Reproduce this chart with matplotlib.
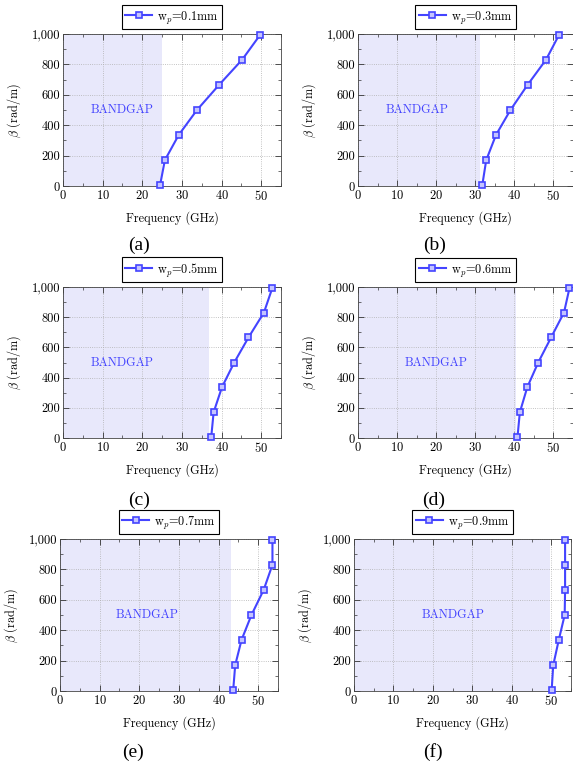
import matplotlib
matplotlib.use('Agg')
import matplotlib.pyplot as plt
from matplotlib.ticker import FuncFormatter, MultipleLocator

plt.rcParams['font.family'] = 'serif'
plt.rcParams['font.serif'] = ['cmr10']
plt.rcParams['mathtext.fontset'] = 'cm'
plt.rcParams['axes.formatter.use_mathtext'] = True

# phase constant (rad/m), same for every panel
beta = [7, 170, 336, 500, 666, 831, 993]

# frequency (GHz) of each point, one list per strip width
freq_01 = [24.5, 25.7, 29.2, 33.8, 39.4, 45.2, 49.7]
freq_03 = [31.8, 32.8, 35.3, 39.0, 43.4, 48.1, 51.4]
freq_05 = [37.4, 38.0, 40.1, 43.2, 46.8, 50.7, 52.8]
freq_06 = [40.8, 41.4, 43.3, 46.1, 49.4, 52.7, 54.1]
freq_07 = [43.7, 44.2, 45.8, 48.3, 51.4, 53.6, 53.6]
freq_09 = [50.1, 50.5, 51.9, 53.4, 53.5, 53.5, 53.5]

# upper edge of the bandgap (GHz)
gap_edge = [25.0, 31.1, 36.9, 40.5, 43.1, 49.7]

widths = ['0.1', '0.3', '0.5', '0.6', '0.7', '0.9']
captions = ['(a)', '(b)', '(c)', '(d)', '(e)', '(f)']
freqs = [freq_01, freq_03, freq_05, freq_06, freq_07, freq_09]
label_x = [15, 15, 15, 20, 22, 25]

W, H = 573, 763
fig = plt.figure(figsize=(W / 100, H / 100), dpi=100)

# axes boxes in pixels: left, top, right, bottom
boxes = [(63, 34, 281, 186), (358, 34, 573, 186),
         (63, 287, 281, 438), (358, 287, 573, 438),
         (60, 539, 278, 691), (354, 539, 571, 691)]
cap_pos = [(139, 245), (435, 245), (139, 500), (434, 500), (133, 752), (433, 752)]

blue = '#4444ff'

for i in range(6):
    l, t, r, b = boxes[i]
    ax = fig.add_axes([l / W, 1 - b / H, (r - l) / W, (b - t) / H])
    ax.axvspan(0, gap_edge[i], color='#e8e8fb', lw=0, zorder=0)
    ax.plot(freqs[i], beta, color=blue, lw=1.5, marker='s', ms=5,
            mfc='#c4c4ff', mec=blue, mew=1.2, clip_on=False, zorder=3,
            label=r'w$_p$=' + widths[i] + 'mm')
    ax.text(label_x[i], 500, 'BANDGAP', color=blue, fontsize=8.8,
            ha='center', va='center')
    ax.set_xlim(0, 55)
    ax.set_ylim(0, 1000)
    ax.xaxis.set_major_locator(MultipleLocator(10))
    ax.xaxis.set_minor_locator(MultipleLocator(5))
    ax.yaxis.set_major_locator(MultipleLocator(200))
    ax.yaxis.set_minor_locator(MultipleLocator(100))
    ax.yaxis.set_major_formatter(FuncFormatter(lambda v, p: '{:,}'.format(int(v))))
    ax.tick_params(which='both', direction='in', top=True, right=True,
                   labelsize=9, colors='#333333', labelcolor='black', pad=2)
    ax.tick_params(which='major', length=4, width=0.6)
    ax.tick_params(which='minor', length=2.5, width=0.5)
    ax.grid(True, which='major', ls=':', lw=0.6, color='#b0b0b0')
    for s in ax.spines.values():
        s.set_linewidth(0.6)
        s.set_color('#444444')
    ax.set_xlabel('Frequency (GHz)', fontsize=8.8, labelpad=6)
    ax.set_ylabel(r'$\beta$ (rad/m)', fontsize=8.8, labelpad=6)
    leg = ax.legend(loc='lower center', bbox_to_anchor=(0.5, 1.03), fontsize=8.8,
                    fancybox=False, framealpha=1, edgecolor='black',
                    handlelength=2.2, borderpad=0.3, handletextpad=0.4,
                    borderaxespad=0)
    leg.get_frame().set_linewidth(0.8)
    cx, cy = cap_pos[i]
    fig.text(cx / W, 1 - cy / H, captions[i], fontsize=14,
             family='Liberation Serif', ha='center', va='center')

fig.savefig('out.png', dpi=100)
